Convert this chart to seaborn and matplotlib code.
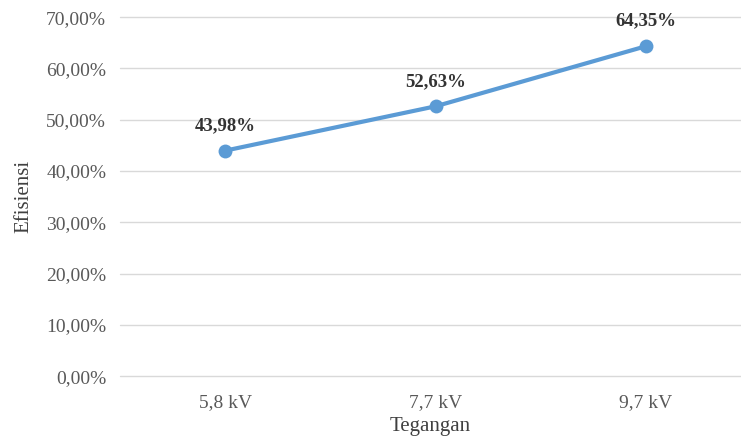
import pandas as pd
import matplotlib.pyplot as plt
import seaborn as sns
from matplotlib.ticker import FuncFormatter

# data
tegangan = ["5,8 kV", "7,7 kV", "9,7 kV"]
efisiensi = [43.98, 52.63, 64.35]
label_teks = ["43,98%", "52,63%", "64,35%"]

df = pd.DataFrame({"Tegangan": tegangan, "Efisiensi": efisiensi})
df["pos"] = range(len(df))

sns.set_style("white")
plt.rcParams["font.family"] = ["Liberation Serif", "DejaVu Serif"]

fig = plt.figure(figsize=(7.41, 4.41), dpi=100)
ax = fig.add_axes([0.162, 0.147, 0.838, 0.814])

sns.lineplot(data=df, x="pos", y="Efisiensi", ax=ax, color="#5B9BD5",
             linewidth=3, marker="o", markersize=10, markeredgewidth=0)

for i, (v, t) in enumerate(zip(efisiensi, label_teks)):
    ax.annotate(t, (i, v), xytext=(0, 18), textcoords="offset points",
                ha="center", va="center", fontsize=13.5, color="#333333",
                fontweight="bold")

ax.set_ylim(0, 70)
ax.set_yticks(range(0, 71, 10))
ax.yaxis.set_major_formatter(FuncFormatter(lambda y, _: f"{y:.2f}".replace(".", ",") + "%"))
ax.set_xlim(-0.5, 2.451)
ax.set_xticks(df["pos"])
ax.set_xticklabels(tegangan)
ax.grid(axis="y", color="#D9D9D9", linewidth=1)
for g in ax.get_ygridlines():
    g.set_clip_on(False)
ax.set_axisbelow(True)
for s in ax.spines.values():
    s.set_visible(False)
ax.tick_params(axis="both", length=0, labelsize=14, colors="#595959", pad=10)
ax.tick_params(axis="x", pad=13)

ax.set_xlabel("Tegangan", fontsize=15, color="#404040", labelpad=4)
ax.set_ylabel("Efisiensi", fontsize=15, color="#404040", labelpad=9)

fig.savefig("out.png", dpi=100)
